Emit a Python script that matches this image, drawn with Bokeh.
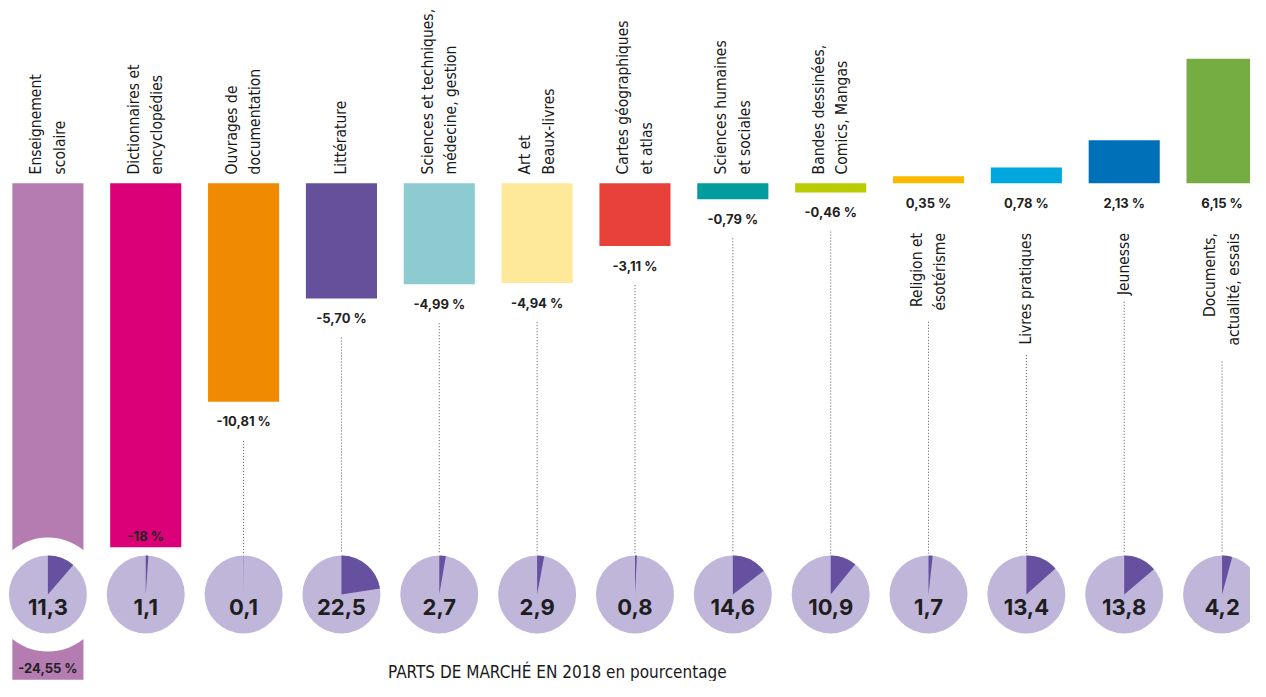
import math
from bokeh.plotting import figure
from bokeh.models import Range1d
from bokeh.core.properties import value
from bokeh.embed import file_html
from bokeh.resources import INLINE

# ---------------- data ----------------
categories = [
    "Enseignement\nscolaire",
    "Dictionnaires et\nencyclopédies",
    "Ouvrages de\ndocumentation",
    "Littérature",
    "Sciences et techniques,\nmédecine, gestion",
    "Art et\nBeaux-livres",
    "Cartes géographiques\net atlas",
    "Sciences humaines\net sociales",
    "Bandes dessinées,\nComics, Mangas",
    "Religion et\nésotérisme",
    "Livres pratiques",
    "Jeunesse",
    "Documents,\nactualité, essais",
]
change_pct = [-24.55, -18, -10.81, -5.70, -4.99, -4.94, -3.11, -0.79, -0.46, 0.35, 0.78, 2.13, 6.15]
market_share_2018 = [11.3, 1.1, 0.1, 22.5, 2.7, 2.9, 0.8, 14.6, 10.9, 1.7, 13.4, 13.8, 4.2]
bar_colors = ["#b47cb1", "#dc0078", "#f08a00", "#65509c", "#8ccbd0", "#fee89a", "#e8413a",
              "#009c9e", "#b8cc00", "#fbb900", "#00a6de", "#0070b8", "#76ad43"]
title_text = "PARTS DE MARCHÉ EN 2018 en pourcentage"

# ---------------- layout (reference-pixel based) ----------------
PX_PER_UNIT = 20.7      # vertical pixels per percentage point
ZERO_PX = 187.0         # pixel row of the zero line
COL_PX = 99.1           # column pitch
COL0_PX = 48.0          # centre of first column
REF_W, REF_H = 1266, 697
FIG_W, FIG_H = 1250, 681

def vy(px):
    return (ZERO_PX - px) / PX_PER_UNIT

def xi(px):
    return (px - COL0_PX) / COL_PX

PIE_CENTER_PX = 608
PIE_R = 39
RING_R = 57
pie_y = vy(PIE_CENTER_PX)
pie_top_px = PIE_CENTER_PX - 40

COND = value("DejaVu Sans Condensed, Roboto Condensed, sans-serif")
GEO = value("Inter")

p = figure(width=FIG_W, height=FIG_H,
           x_range=Range1d(xi(0), xi(REF_W)), y_range=Range1d(vy(REF_H), vy(0)),
           output_backend="svg", toolbar_location=None, min_border=0)
p.axis.visible = False
p.grid.visible = False
p.outline_line_color = None
p.background_fill_color = "white"
p.border_fill_color = "white"

n = len(categories)
xs = list(range(n))

# bars
p.vbar(x=xs, top=change_pct, bottom=[0] * n, width=72 / COL_PX,
       fill_color=bar_colors, line_color=None)

# value labels and leaders
lab_x, lab_y, lab_t = [], [], []
seg_x, seg_y0, seg_y1 = [], [], []
for i, v in enumerate(change_pct):
    txt = (f"{v:.0f}" if float(v).is_integer() else f"{v:.2f}").replace(".", ",") + " %"
    end_px = ZERO_PX - PX_PER_UNIT * min(v, 0)
    ly = end_px + 20
    if ly + 8 > pie_top_px - 10:
        ly = end_px - 12
        lead = None
    else:
        lead = ly + 20
    if v > 0:
        longest = max(len(s) for s in categories[i].split("\n"))
        lead = 238 + 6.8 * longest + 16
    lab_x.append(i); lab_y.append(vy(ly)); lab_t.append(txt)
    if lead is not None:
        seg_x.append(i); seg_y0.append(vy(lead)); seg_y1.append(vy(pie_top_px - 2))

p.segment(x0=seg_x, y0=seg_y0, x1=seg_x, y1=seg_y1, line_color="#555555",
          line_width=1, line_dash="1 2")

p.text(x=lab_x, y=lab_y, text=lab_t, text_align="center", text_baseline="middle",
       text_font=GEO, text_font_style="bold", text_font_size="13px", text_color="#222222")

# category labels (rotated)
neg = [i for i, v in enumerate(change_pct) if v < 0]
pos = [i for i, v in enumerate(change_pct) if v > 0]
p.text(x=neg, y=[vy(178)] * len(neg), text=[categories[i] for i in neg], angle=math.pi / 2,
       text_align="left", text_baseline="middle", text_font=COND, text_font_size="15.5px",
       text_color="#1a1a1a", text_line_height=1.3)
p.text(x=pos, y=[vy(238)] * len(pos), text=[categories[i] for i in pos], angle=math.pi / 2,
       text_align="right", text_baseline="middle", text_font=COND, text_font_size="15.5px",
       text_color="#1a1a1a", text_line_height=1.3)

# white ring where the first bar passes behind its pie
p.scatter(x=[0], y=[pie_y], marker="circle", size=2 * RING_R, fill_color="white", line_color=None)

# pies
p.scatter(x=xs, y=[pie_y] * n, marker="circle", size=2 * PIE_R, fill_color="#c0b6da", line_color=None)
p.wedge(x=xs, y=[pie_y] * n, radius=PIE_R, radius_units="screen",
        start_angle=[math.pi / 2 - 2 * math.pi * s / 100 for s in market_share_2018],
        end_angle=[math.pi / 2] * n, fill_color="#6650a0", line_color=None)
p.text(x=xs, y=[vy(621)] * n, text=[f"{s:.1f}".replace(".", ",") for s in market_share_2018],
       text_align="center", text_baseline="middle", text_font=GEO, text_font_style="bold",
       text_font_size="22px", text_color="#1e1e1e")

# title
p.text(x=[xi(564)], y=[vy(687)], text=[title_text], text_align="center", text_baseline="middle",
       text_font=COND, text_font_size="17px", text_color="#1a1a1a")

open("out.html", "w").write(file_html(p, INLINE))
